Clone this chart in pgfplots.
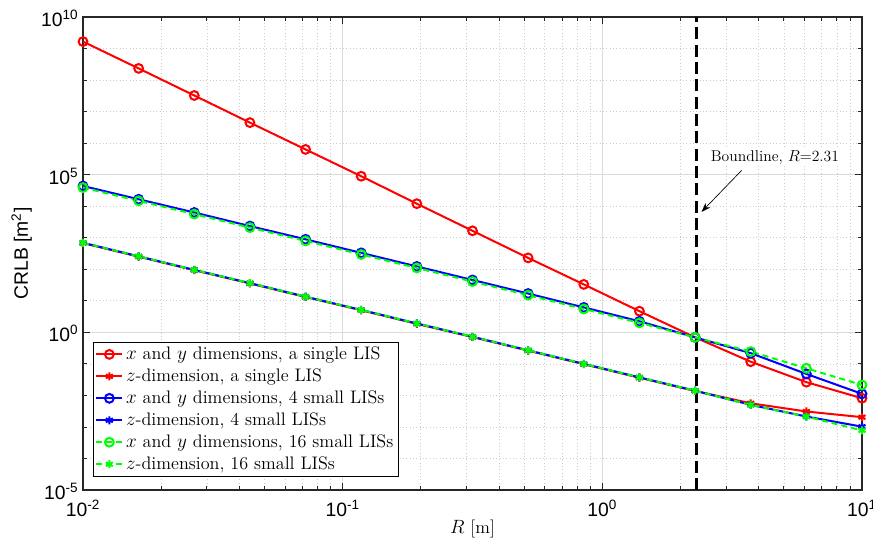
\documentclass[border=0pt]{standalone}
\usepackage{fontspec}
\usepackage{pgfplots}
\pgfplotsset{compat=1.18}
\usetikzlibrary{arrows.meta}
\newfontfamily\helv{Liberation Sans}
\newcommand{\tl}[1]{{\helv 10\textsuperscript{#1}}}

\begin{document}
\begin{tikzpicture}
\begin{axis}[
    at={(0,0)}, anchor=south west,
    scale only axis,
    width=584.25pt, height=354.75pt,
    xmode=log, ymode=log,
    xmin=0.01, xmax=10,
    ymin=1e-5, ymax=1e10,
    xtick={0.01,0.1,1,10},
    xticklabels={\tl{-2},\tl{-1},\tl{0},\tl{1}},
    minor xtick={0.02,0.03,0.04,0.05,0.06,0.07,0.08,0.09,0.2,0.3,0.4,0.5,0.6,0.7,0.8,0.9,2,3,4,5,6,7,8,9},
    ytick={1e-5,1,1e5,1e10},
    yticklabels={\tl{-5},\tl{0},\tl{5},\tl{10}},
    minor ytick={1e-4,1e-3,1e-2,1e-1,10,100,1e3,1e4,1e6,1e7,1e8,1e9},
    ticklabel style={font=\fontsize{14.5}{16}\selectfont},
    xticklabel style={yshift=-4pt},
    yticklabel style={yshift=-1pt},
    tick align=inside,
    major tick length=5.5pt,
    minor tick length=3pt,
    tick style={black!85, line width=0.6pt},
    axis line style={black!85, line width=0.8pt},
    grid=both,
    major grid style={black!14, line width=0.6pt},
    minor grid style={black!20, line width=0.5pt, dotted},
    xlabel={$R$ [m]},
    xlabel style={font=\fontsize{13.5}{15}\selectfont, at={(axis description cs:0.5,0)}, anchor=north, yshift=-19pt},
    ylabel={\helv CRLB [m\textsuperscript{2}]},
    ylabel style={font=\fontsize{14.5}{16}\selectfont},
    legend cell align=left,
    legend style={at={(axis description cs:0.0128,0.313)}, anchor=north west,
        font=\fontsize{13.6}{16.7}\selectfont, draw=black, line width=0.6pt,
        fill=white, inner sep=1.5pt, row sep=1.4pt},
    legend image code/.code={\draw[mark repeat=2,mark phase=2] plot coordinates {(0pt,0pt) (9.75pt,0pt) (19.5pt,0pt)};},
    clip=true,
]
% x and y, single LIS
\addplot[red, line width=1.5pt, mark=o, mark size=3.3pt] table {
x y
0.01 1.66e9
0.016379 2.34e8
0.026827 3.24e7
0.043940 4.47e6
0.071969 6.31e5
0.11788 8.91e4
0.19307 1.20e4
0.31623 1.66e3
0.51795 229
0.84834 33.1
1.3895 4.68
2.2758 0.692
3.7276 0.117
6.1054 0.0263
10 0.00813
};
\addlegendentry{$x$ and $y$ dimensions, a single LIS}
% z, single LIS
\addplot[red, line width=1.5pt, mark=asterisk, mark size=3pt] table {
x y
0.01 676
0.016379 251
0.026827 93.3
0.043940 35.5
0.071969 13.2
0.11788 5.01
0.19307 1.86
0.31623 0.708
0.51795 0.263
0.84834 0.0977
1.3895 0.0363
2.2758 0.0138
3.7276 0.00562
6.1054 0.00309
10 0.00204
};
\addlegendentry{$z$-dimension, a single LIS}
% x and y, 4 small LISs
\addplot[blue, line width=1.5pt, mark=o, mark size=3.3pt] table {
x y
0.01 4.37e4
0.016379 1.66e4
0.026827 6.31e3
0.043940 2.34e3
0.071969 891
0.11788 331
0.19307 123
0.31623 45.7
0.51795 17.0
0.84834 6.17
1.3895 2.24
2.2758 0.692
3.7276 0.219
6.1054 0.0479
10 0.0112
};
\addlegendentry{$x$ and $y$ dimensions, 4 small LISs}
% z, 4 small LISs
\addplot[blue, line width=1.5pt, mark=asterisk, mark size=3pt] table {
x y
0.01 692
0.016379 257
0.026827 95.5
0.043940 36.3
0.071969 13.5
0.11788 5.13
0.19307 1.91
0.31623 0.724
0.51795 0.269
0.84834 0.100
1.3895 0.0372
2.2758 0.0141
3.7276 0.00501
6.1054 0.00214
10 0.00102
};
\addlegendentry{$z$-dimension, 4 small LISs}
% x and y, 16 small LISs
\addplot[green, line width=1.5pt, dash pattern=on 4.5pt off 3pt, mark=o, mark size=3.3pt, mark options={solid}] table {
x y
0.01 3.89e4
0.016379 1.48e4
0.026827 5.62e3
0.043940 2.09e3
0.071969 794
0.11788 295
0.19307 110
0.31623 40.7
0.51795 15.1
0.84834 5.50
1.3895 2.00
2.2758 0.692
3.7276 0.245
6.1054 0.0724
10 0.0214
};
\addlegendentry{$x$ and $y$ dimensions, 16 small LISs}
% z, 16 small LISs
\addplot[green, line width=1.5pt, dash pattern=on 4.5pt off 3pt, mark=asterisk, mark size=3pt, mark options={solid}] table {
x y
0.01 692
0.016379 257
0.026827 95.5
0.043940 36.3
0.071969 13.5
0.11788 5.13
0.19307 1.91
0.31623 0.724
0.51795 0.269
0.84834 0.100
1.3895 0.0372
2.2758 0.0141
3.7276 0.00501
6.1054 0.00214
10 0.000776
};
\addlegendentry{$z$-dimension, 16 small LISs}
% boundline
\addplot[black, line width=2.5pt, dash pattern=on 9pt off 4pt, forget plot] coordinates {(2.31,1e-5) (2.31,1e10)};
\draw[-{Stealth[length=7pt,width=5pt]}, line width=0.5pt] (axis cs:3.44,1.37e5) -- (axis cs:2.41,6.6e3);
\node[font=\fontsize{11.7}{14}\selectfont, fill=white, inner sep=1pt] at (axis cs:4.62,3.5e5) {Boundline, $R$=2.31};
\end{axis}
\pgfresetboundingbox
\path (-62.25pt,-36pt) rectangle (592.5pt,367.5pt);
\end{tikzpicture}
\end{document}
